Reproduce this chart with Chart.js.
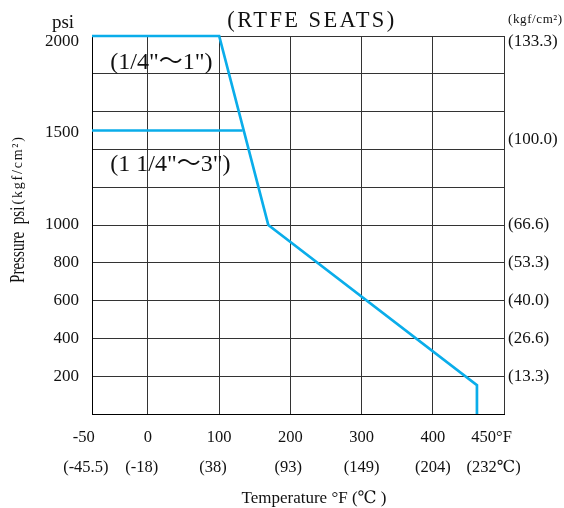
<!DOCTYPE html>
<html><head><meta charset="utf-8">
<script src="https://cdn.jsdelivr.net/npm/chart.js@4.4.1/dist/chart.umd.min.js"></script>
<style>html,body{margin:0;padding:0;background:#fff}#wrap{width:564px;height:508px;position:relative}</style>
</head><body><div id="wrap"><canvas id="c"></canvas></div>
<script>
const SERIF = "'Liberation Serif','Times New Roman','DejaVu Serif','Noto Sans CJK JP',serif";

// ---- data ----
const titleText = '(RTFE SEATS)';
const xLeftEdge = -78.6;   // left boundary of the temperature axis (labelled -50)
const xRightEdge = 500;    // right boundary (labelled 450°F)
const series1Label = '(1/4"～1")';
const series1X = [-78.6, 100, 169, 462, 462];
const series1Y = [2000, 2000, 1000, 153, 0];
const series2Label = '(1 1/4"～3")';
const series2X = [-78.6, 133];
const series2Y = [1500, 1500];
const xTickValues = [-78.6, 0, 100, 200, 300, 400, 500];
const xTickF = ['-50', '0', '100', '200', '300', '400', '450°F'];
const xTickC = ['(-45.5)', '(-18)', '(38)', '(93)', '(149)', '(204)', '(232℃)'];
const yGridValues = [0, 200, 400, 600, 800, 1000, 1200, 1400, 1600, 1800, 2000];
const yLabelValues = [200, 400, 600, 800, 1000, 1500, 2000];
const yLabelsPsi = ['200', '400', '600', '800', '1000', '1500', '2000'];
const yLabelsKgf = ['(13.3)', '(26.6)', '(40.0)', '(53.3)', '(66.6)', '(100.0)', '(133.3)'];

// ---- styling helpers ----
const xPadF = ['    ', '', '', '', '', '', '      '];
const xPadC = ['   ', '   ', '   ', ' ', '', '', '     '];
const leftShift = {2000: '12px', 1500: '4px'};
const rightShift = {2000: '11px', 1500: '19px'};
const yAllTicks = Array.from(new Set(yGridValues.concat(yLabelValues))).sort((a, b) => a - b);

const textPlugin = {
  id: 'texts',
  afterDraw(chart) {
    const {ctx, scales: {x, y}} = chart;
    ctx.save();
    ctx.fillStyle = '#111';
    ctx.textBaseline = 'alphabetic';
    // title
    ctx.font = `22.5px ${SERIF}`;
    ctx.letterSpacing = '2.4px';
    ctx.textAlign = 'center';
    ctx.fillText(titleText, 312, 27);
    ctx.letterSpacing = '0px';
    // psi
    ctx.font = `19px ${SERIF}`;
    ctx.fillText('psi', 63, 28);
    // kgf/cm2 top right
    ctx.font = `13px ${SERIF}`;
    ctx.letterSpacing = '0.6px';
    ctx.textAlign = 'left';
    ctx.fillText('(kgf/cm²)', 508, 23);
    ctx.letterSpacing = '0px';
    // series annotations
    ctx.font = `24px ${SERIF}`;
    ctx.fillText(series1Label, x.getPixelForValue(-53), y.getPixelForValue(1825));
    ctx.fillText(series2Label, x.getPixelForValue(-53), y.getPixelForValue(1286));
    // x title
    ctx.font = `17px ${SERIF}`;
    ctx.textAlign = 'center';
    ctx.fillText('Temperature °F (℃ )', 314, 503);
    // y title (rotated)
    ctx.save();
    ctx.translate(24, 283);
    ctx.rotate(-Math.PI / 2);
    ctx.textAlign = 'left';
    ctx.save();
    ctx.scale(0.72, 1);
    ctx.font = `21px ${SERIF}`;
    const main = 'Pressure  psi';
    ctx.fillText(main, 0, 0);
    const w = ctx.measureText(main).width * 0.72;
    ctx.restore();
    ctx.font = `14px ${SERIF}`;
    ctx.letterSpacing = '1.8px';
    ctx.fillText('(kgf/cm²)', w + 2, -2);
    ctx.restore();
    ctx.restore();
  }
};

new Chart(document.getElementById('c'), {
  type: 'line',
  data: {
    datasets: [
      {label: series1Label, data: series1X.map((v, i) => ({x: v, y: series1Y[i]})),
       borderColor: '#0AADEA', borderWidth: 2.7, pointRadius: 0, tension: 0, fill: false, clip: false},
      {label: series2Label, data: series2X.map((v, i) => ({x: v, y: series2Y[i]})),
       borderColor: '#0AADEA', borderWidth: 2.7, pointRadius: 0, tension: 0, fill: false, clip: false}
    ]
  },
  options: {
    responsive: true,
    maintainAspectRatio: false,
    animation: false,
    layout: {padding: {top: 36, left: 0, right: 0, bottom: 0}},
    plugins: {legend: {display: false}, tooltip: {enabled: false}, title: {display: false}},
    scales: {
      x: {
        type: 'linear', min: xLeftEdge, max: xRightEdge, position: 'bottom',
        afterBuildTicks: s => { s.ticks = xTickValues.map(v => ({value: v})); },
        afterFit: s => { s.height = 94; },
        grid: {color: '#333', lineWidth: 1, drawTicks: false},
        border: {display: true, color: '#000', width: 1},
        ticks: {
          padding: 8.5, autoSkip: false, maxRotation: 0, color: '#111',
          font: {family: SERIF, size: 16.5, lineHeight: '30px'},
          callback: (v, i) => [xTickF[i] + xPadF[i], xTickC[i] + xPadC[i]]
        }
      },
      y: {
        type: 'linear', min: 0, max: 2000, position: 'left',
        afterBuildTicks: s => { s.ticks = yAllTicks.map(v => ({value: v})); },
        afterFit: s => { s.width = 92; },
        grid: {color: c => (c.tick && yGridValues.includes(c.tick.value)) ? '#333' : 'rgba(0,0,0,0)', lineWidth: 1, drawTicks: false},
        border: {display: true, color: '#000', width: 1},
        ticks: {
          padding: 13, autoSkip: false, color: '#111',
          font: c => ({family: SERIF, size: 17, lineHeight: (c.tick && leftShift[c.tick.value]) || 1.2}),
          callback: v => {
            const i = yLabelValues.indexOf(v);
            if (i < 0) return '';
            return leftShift[v] ? ['', yLabelsPsi[i]] : yLabelsPsi[i];
          }
        }
      },
      y2: {
        type: 'linear', min: 0, max: 2000, position: 'right',
        afterBuildTicks: s => { s.ticks = yAllTicks.map(v => ({value: v})); },
        afterFit: s => { s.width = 60; },
        grid: {display: false, drawTicks: false},
        border: {display: false},
        ticks: {
          padding: 4, autoSkip: false, color: '#111',
          font: c => ({family: SERIF, size: 17, lineHeight: (c.tick && rightShift[c.tick.value]) || 1.2}),
          callback: v => {
            const i = yLabelValues.indexOf(v);
            if (i < 0) return '';
            return rightShift[v] ? ['', yLabelsKgf[i]] : yLabelsKgf[i];
          }
        }
      }
    }
  },
  plugins: [textPlugin]
});
</script>
</body></html>
